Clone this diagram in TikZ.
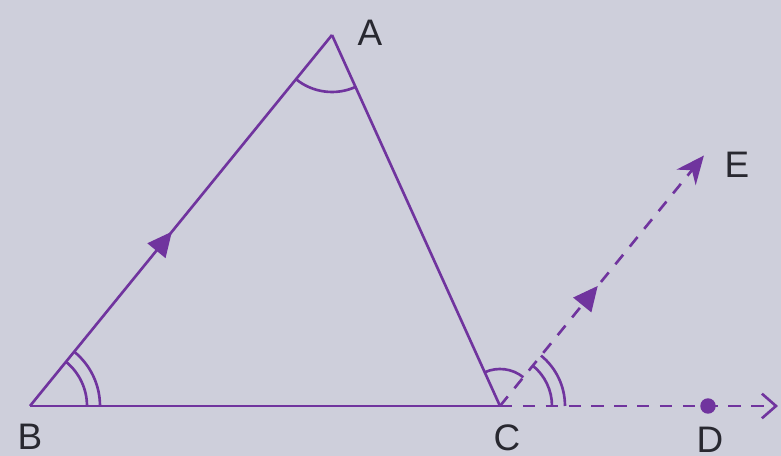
\documentclass[tikz,border=0pt]{standalone}
\usepackage{fontspec}
\setsansfont{Liberation Sans}
\usepackage{tikz}
\usetikzlibrary{arrows.meta, positioning, calc, decorations.markings}
\definecolor{linecol}{RGB}{112,52,158}
\definecolor{paper}{RGB}{206,207,219}
\definecolor{inkcol}{RGB}{40,40,48}

\begin{document}
\begin{tikzpicture}[line width=0.75pt,
    lbl/.style={text=inkcol, font=\sffamily\fontsize{10.5}{12}\selectfont, inner sep=0pt},
    dashline/.style={dash pattern=on 3.5pt off 3pt},
    midarrow/.style={postaction={decorate}, decoration={markings,
        mark=at position #1 with {\arrow{Triangle[length=7pt, width=6.5pt]}}}}]
    % Paper
    \fill[paper] (0, 0) rectangle (7.81, 4.56);
    \useasboundingbox (0, 0) rectangle (7.81, 4.56);

    % Points
    \coordinate (B) at (0.30, 0.50);
    \coordinate (C) at (5.00, 0.50);
    \coordinate (A) at (3.32, 4.21);
    \coordinate (D) at (7.08, 0.50);
    \coordinate (E) at ($(C)+(50.85:3.23)$);
    \coordinate (Dend) at (7.78, 0.50);

    % Triangle
    \draw[linecol, midarrow=0.47] (B) -- (A);
    \draw[linecol] (A) -- (C);
    \draw[linecol] (B) -- (C);

    % Construction
    \draw[linecol, dashline, midarrow=0.48, -{Stealth[length=8pt, width=7pt]}] (C) -- (E);
    \draw[linecol, dashline, -{Straight Barb[length=4pt, width=7pt]}] (C) -- (Dend);
    \fill[linecol] (D) circle (2.2pt);

    % Angles
    \draw[linecol] ($(B)+(0:0.57)$) arc (0:50.85:0.57);
    \draw[linecol] ($(B)+(0:0.70)$) arc (0:50.85:0.70);
    \draw[linecol] ($(A)+(230.85:0.57)$) arc (230.85:294.36:0.57);
    \draw[linecol] ($(C)+(50.85:0.37)$) arc (50.85:114.36:0.37);
    \draw[linecol] ($(C)+(0:0.52)$) arc (0:50.85:0.52);
    \draw[linecol] ($(C)+(0:0.65)$) arc (0:50.85:0.65);

    % Labels
    \node[lbl] (labA) at (3.70, 4.23) {A};
    \node[lbl] (labB) at (0.30, 0.19) {B};
    \node[lbl] (labC) at (5.07, 0.18) {C};
    \node[lbl] (labD) at (7.10, 0.16) {D};
    \node[lbl] (labE) at (7.37, 2.91) {E};
\end{tikzpicture}
\end{document}
